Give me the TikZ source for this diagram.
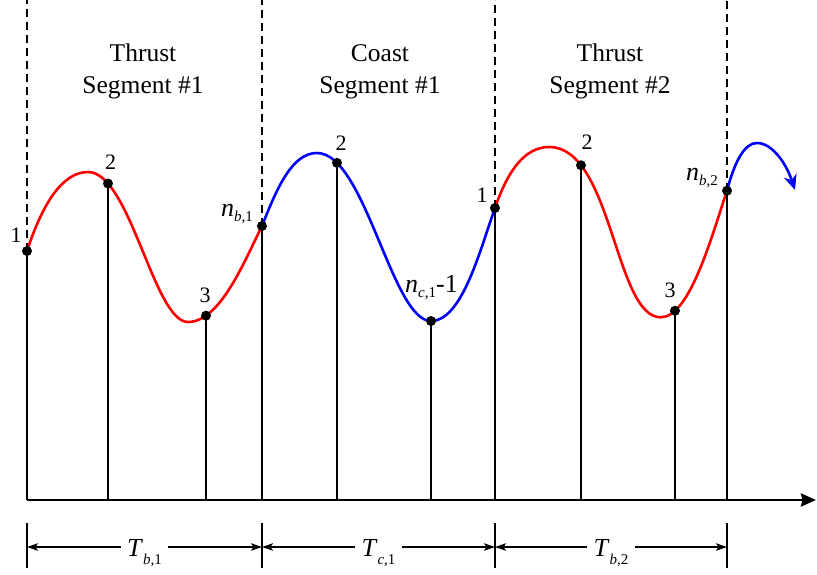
\documentclass[tikz,border=0pt]{standalone}
\usepackage{fontspec}
\setmainfont{Liberation Serif}
\usetikzlibrary{arrows.meta,intersections,calc}
\newcommand\subpart[3]{\raisebox{-#3}{\fontsize{15}{15}\selectfont\textit{#1},#2}}
\begin{document}
\begin{tikzpicture}[x=1pt,y=-1pt,
  curve/.style={line width=2.6pt},
  stem/.style={line width=1.6pt},
  guide/.style={line width=1.5pt, dash pattern=on 8pt off 5pt},
  dot/.style={circle, fill=black, inner sep=0pt, minimum size=10pt},
  digit/.style={font=\fontsize{22}{22}\selectfont, inner sep=0pt},
  sym/.style={font=\fontsize{26}{26}\selectfont, inner sep=0pt},
  title/.style={font=\fontsize{25.5}{32}\selectfont, align=center, inner sep=0pt},
  dim/.style={line width=1.4pt, -{Stealth[length=11pt,width=7.5pt,inset=2.5pt]}},
  ]
\useasboundingbox (0,0) rectangle (817,575);
\coordinate (top) at (0,0);
\coordinate (ax) at (27,500);
\coordinate (axend) at (816,500);
\coordinate (dimtop) at (0,523);
\coordinate (dimbot) at (0,568);
\coordinate (dimy) at (0,547);

% curves
\draw[red, curve, name path=r1] (27,251) coordinate (a1)
  .. controls (42,205) and (62,172) .. (88,172)
  .. controls (130,172) and (154,322) .. (188,322)
  .. controls (220,322) and (244,262) .. (262,226) coordinate (b1);
\draw[blue, curve, name path=c1] (b1)
  .. controls (278,185) and (293,153) .. (317,153)
  .. controls (365,153) and (392,321) .. (431,321) coordinate (c3)
  .. controls (462,321) and (480,250) .. (495,208) coordinate (a2);
\draw[red, curve, name path=r2] (a2)
  .. controls (508,170) and (525,147) .. (549.3,147)
  .. controls (612,147) and (615,317.3) .. (660.7,317.3)
  .. controls (690,317.3) and (712,235) .. (727,190.7) coordinate (b2);
\draw[blue, curve, -{Stealth[length=15pt,width=13pt,inset=4.5pt]}] (b2)
  .. controls (735,160) and (745,143) .. (757,143)
  .. controls (772,143) and (786,163) .. (795,190);

% intersection points
\path[name path=v1] (108,0) -- (108,500);
\path[name path=v2] (206,0) -- (206,500);
\path[name path=v3] (337,0) -- (337,500);
\path[name path=v4] (581,0) -- (581,500);
\path[name path=v5] (675,0) -- (675,500);
\path[name intersections={of=r1 and v1, by=p12}];
\path[name intersections={of=r1 and v2, by=p13}];
\path[name intersections={of=c1 and v3, by=q12}];
\path[name intersections={of=r2 and v4, by=p22}];
\path[name intersections={of=r2 and v5, by=p23}];

% dashed guides
\foreach \p in {a1,b1,a2,b2} \draw[guide] (\p) -- (\p |- top);

% stems
\foreach \p in {a1,p12,p13,b1,q12,c3,a2,p22,p23,b2} \draw[stem] (\p |- ax) -- (\p);

% dots
\foreach \p in {a1,p12,p13,b1,q12,c3,a2,p22,p23,b2} \node[dot] (d\p) at (\p) {};

% axis
\draw[line width=2.8pt, -{Stealth[length=15pt,width=13pt,inset=1.5pt]}] (ax) -- (axend);

% point labels
\node[digit] (l1) at (16,235) {1};
\node[digit] (l2) at (110.7,162.7) {2};
\node[digit] (l3) at (205,295) {3};
\node[sym] (lnb1) at (237,214) {\textit{n}\subpart{b}{1}{5pt}};
\node[digit] (l4) at (341,143) {2};
\node[sym] (lnc1) at (431.5,287.5) {\textit{n}\subpart{c}{1}{5pt}-1};
\node[digit] (l5) at (482,195) {1};
\node[digit] (l6) at (587,142) {2};
\node[digit] (l7) at (670,290) {3};
\node[sym] (lnb2) at (702,178) {\textit{n}\subpart{b}{2}{5pt}};

% titles
\node[title] (t1) at (143,71) {Thrust\\Segment \#1};
\node[title] (t2) at (380,71.5) {Coast\\Segment \#1};
\node[title] (t3) at (610,71.5) {Thrust\\Segment \#2};

% dimension ticks
\foreach \p in {a1,b1,a2,b2} \draw[stem] (\p |- dimtop) -- (\p |- dimbot);

% dimension labels
\node[sym, anchor=base, inner xsep=6pt] (Tb1) at ($(a1 |- 0,556)!0.5!(b1 |- 0,556)$) {\textit{T}\subpart{b}{1}{8pt}};
\node[sym, anchor=base, inner xsep=6pt] (Tc1) at ($(b1 |- 0,556)!0.5!(a2 |- 0,556)$) {\textit{T}\subpart{c}{1}{8pt}};
\node[sym, anchor=base, inner xsep=6pt] (Tb2) at ($(a2 |- 0,556)!0.5!(b2 |- 0,556)$) {\textit{T}\subpart{b}{2}{8pt}};

\draw[dim] (Tb1.west |- dimy) -- (a1 |- dimy);
\draw[dim] (Tb1.east |- dimy) -- (b1 |- dimy);
\draw[dim] (Tc1.west |- dimy) -- (b1 |- dimy);
\draw[dim] (Tc1.east |- dimy) -- (a2 |- dimy);
\draw[dim] (Tb2.west |- dimy) -- (a2 |- dimy);
\draw[dim] (Tb2.east |- dimy) -- (b2 |- dimy);
\end{tikzpicture}
\end{document}
